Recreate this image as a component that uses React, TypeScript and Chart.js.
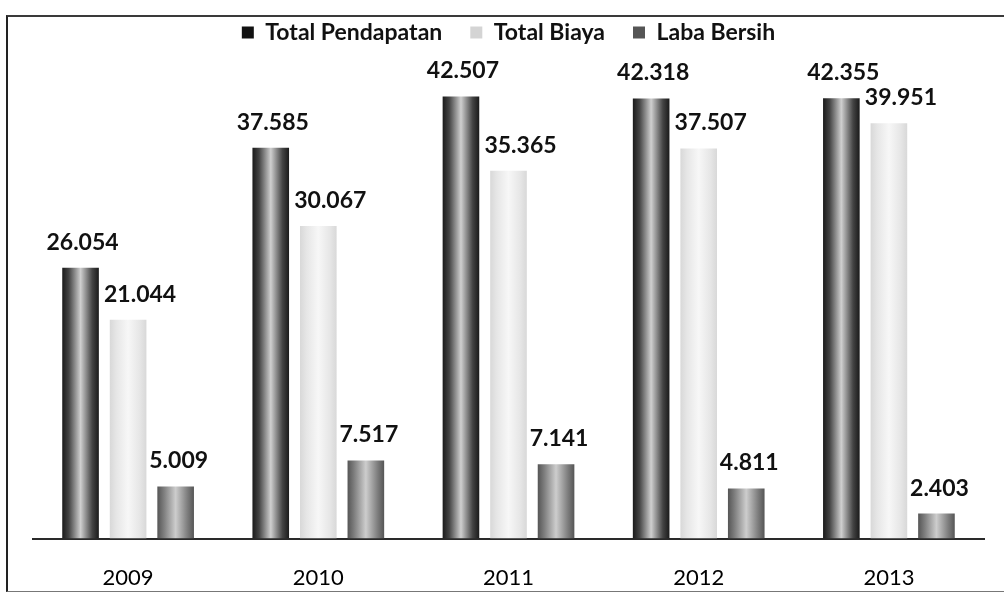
import React, { useEffect, useRef } from "react";
import { Chart, registerables } from "chart.js";

Chart.register(...registerables);

const categories = ["2009", "2010", "2011", "2012", "2013"];
const totalPendapatan = [26.054, 37.585, 42.507, 42.318, 42.355];
const totalBiaya = [21.044, 30.067, 35.365, 37.507, 39.951];
const labaBersih = [5.009, 7.517, 7.141, 4.811, 2.403];
const seriesNames = ["Total Pendapatan", "Total Biaya", "Laba Bersih"];

const legendColors = ["#111111", "#d4d4d4", "#555555"];
const gradientStops: string[][] = [
  ["#1a1a1a", "#444444", "#cfcfcf", "#444444", "#1a1a1a"],
  ["#d8d8d8", "#e6e6e6", "#f7f7f7", "#e6e6e6", "#d8d8d8"],
  ["#555555", "#7e7e7e", "#cdcdcd", "#7e7e7e", "#555555"],
];
const labelShift = [2, 12, 3];

const FONT = "Lato, 'Open Sans', sans-serif";

export default function App() {
  const ref = useRef<HTMLCanvasElement | null>(null);

  useEffect(() => {
    document.body.style.margin = "0";
    const canvas = ref.current;
    if (!canvas) return;

    const gradientPlugin = {
      id: "gradBars",
      beforeDatasetsDraw(chart: any) {
        const ctx = chart.ctx;
        chart.data.datasets.forEach((_: any, di: number) => {
          const meta = chart.getDatasetMeta(di);
          meta.data.forEach((el: any) => {
            const left = el.x - el.width / 2;
            const right = el.x + el.width / 2;
            const g = ctx.createLinearGradient(left, 0, right, 0);
            const stops = gradientStops[di];
            const pos = [0, 0.18, 0.5, 0.82, 1];
            stops.forEach((c, i) => g.addColorStop(pos[i], c));
            el.options.backgroundColor = g;
          });
        });
      },
      afterDatasetsDraw(chart: any) {
        const ctx = chart.ctx;
        ctx.save();
        ctx.font = `bold 23px ${FONT}`;
        ctx.fillStyle = "#111";
        ctx.textAlign = "center";
        ctx.textBaseline = "bottom";
        chart.data.datasets.forEach((ds: any, di: number) => {
          const meta = chart.getDatasetMeta(di);
          meta.data.forEach((el: any, i: number) => {
            const v = ds.data[i] as number;
            ctx.fillText(v.toFixed(3), el.x + labelShift[di], el.y - 14);
          });
        });
        ctx.restore();
      },
    };

    const mk = (label: string, data: number[], i: number) => ({
      label,
      data,
      backgroundColor: () => legendColors[i],
      borderWidth: 0,
      barPercentage: 0.77,
      categoryPercentage: 0.75,
    });

    const chart = new Chart(canvas, {
      type: "bar",
      data: {
        labels: categories,
        datasets: [
          mk(seriesNames[0], totalPendapatan, 0),
          mk(seriesNames[1], totalBiaya, 1),
          mk(seriesNames[2], labaBersih, 2),
        ],
      },
      options: {
        responsive: false,
        animation: false,
        layout: { padding: { left: 33, right: 20, top: -7, bottom: -25 } },
        plugins: {
          legend: {
            display: true,
            position: "top",
            labels: {
              boxWidth: 12,
              boxHeight: 12,
              padding: 28,
              color: "#111",
              font: { family: FONT, size: 23, weight: "bold" },
            },
          },
          tooltip: { enabled: false },
        },
        scales: {
          x: {
            grid: { display: false, drawTicks: false },
            border: { display: true, color: "#2a2a2a", width: 2 },
            ticks: {
              color: "#000",
              padding: 26,
              font: { family: FONT, size: 22 },
            },
          },
          y: {
            display: false,
            min: 0,
            max: 46.6,
          },
        },
      },
      plugins: [gradientPlugin],
    });

    return () => chart.destroy();
  }, []);

  return (
    <div style={{ position: "relative", width: 1004, height: 592, background: "#fff", overflow: "hidden" }}>
      <div
        style={{
          position: "absolute",
          left: 6,
          top: 15,
          width: 1004,
          height: 574,
          borderTop: "2px solid #3a3a3a",
          borderLeft: "2px solid #222",
          borderBottom: "1px solid #777",
        }}
      />
      <canvas ref={ref} width={1004} height={592} style={{ position: "absolute", left: 0, top: 0 }} />
    </div>
  );
}
